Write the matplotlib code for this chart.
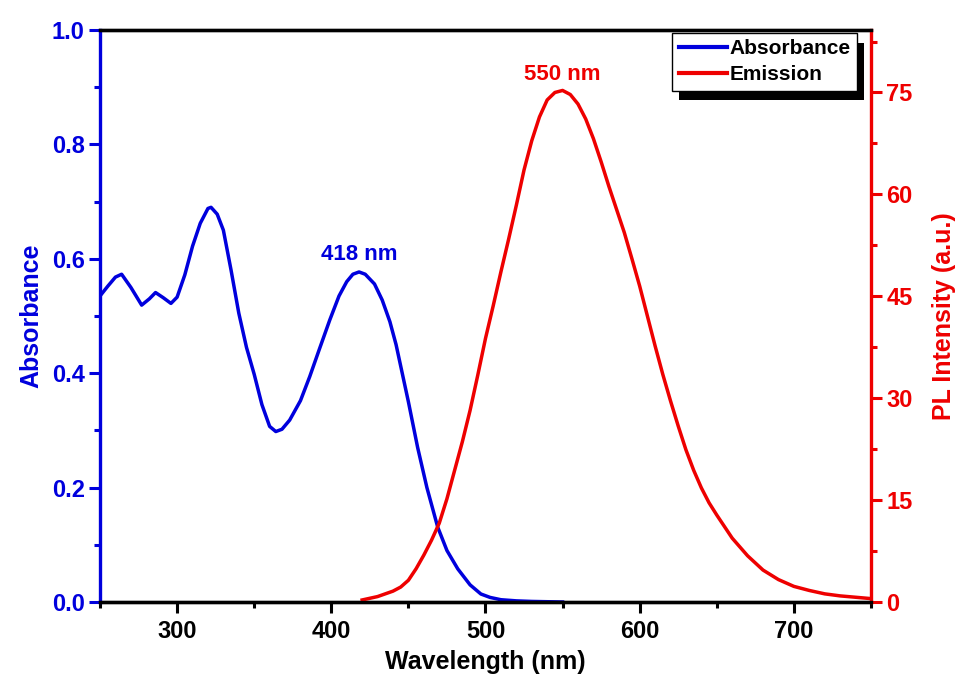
import matplotlib
matplotlib.use("Agg")
from matplotlib import pyplot as plt
from matplotlib import patheffects as pe
from matplotlib.ticker import MultipleLocator
import numpy as np

plt.rcParams['font.family'] = ['Liberation Sans', 'DejaVu Sans']
plt.rcParams['font.weight'] = 'bold'

# absorbance spectrum
abs_wl = [250, 255, 260, 264, 270, 277, 282, 286, 291, 296, 300, 305, 310, 315,
          320, 322, 326, 330, 335, 340, 345, 350, 355, 360, 364, 368, 373, 380,
          386, 392, 399, 405, 410, 414, 418, 422, 428, 433, 438, 442, 446, 450,
          456, 462, 469, 475, 482, 490, 497, 503, 510, 520, 530, 540, 550]
abs_val = [0.535, 0.552, 0.568, 0.573, 0.550, 0.519, 0.530, 0.541, 0.532, 0.522,
           0.533, 0.572, 0.622, 0.662, 0.688, 0.690, 0.678, 0.650, 0.580, 0.505,
           0.445, 0.398, 0.345, 0.307, 0.298, 0.302, 0.318, 0.352, 0.394, 0.440,
           0.493, 0.535, 0.560, 0.573, 0.577, 0.573, 0.556, 0.528, 0.490, 0.450,
           0.400, 0.350, 0.270, 0.200, 0.131, 0.090, 0.058, 0.030, 0.014, 0.008,
           0.004, 0.002, 0.001, 0.0005, 0.0]

# PL emission spectrum
em_wl = [420, 430, 440, 445, 450, 455, 460, 465, 470, 475, 480, 485, 490, 495,
         500, 505, 510, 515, 520, 525, 530, 535, 540, 545, 550, 555, 560, 565,
         570, 575, 580, 585, 590, 595, 600, 605, 610, 615, 620, 625, 630, 635,
         640, 645, 650, 660, 670, 680, 690, 700, 710, 720, 730, 740, 750]
em_val = [0.3, 0.8, 1.6, 2.2, 3.2, 4.9, 6.9, 9.1, 11.6, 15.2, 19.4, 23.6, 28.2,
          33.4, 38.8, 43.6, 48.6, 53.4, 58.4, 63.6, 67.9, 71.4, 73.9, 75.0, 75.3,
          74.7, 73.3, 71.1, 68.2, 64.8, 61.2, 57.8, 54.4, 50.5, 46.5, 42.1, 37.7,
          33.5, 29.6, 25.9, 22.4, 19.4, 16.8, 14.6, 12.8, 9.4, 6.8, 4.7, 3.3, 2.3,
          1.7, 1.2, 0.9, 0.7, 0.5]

blue = '#0000dd'
red = '#ee0000'

fig = plt.figure(figsize=(9.59, 6.80), dpi=100)
ax = fig.add_axes([0.1043, 0.1147, 0.8039, 0.8412])
ax2 = ax.twinx()

l1, = ax.plot(abs_wl, abs_val, color=blue, lw=2.5, label='Absorbance')
l2, = ax2.plot(em_wl, em_val, color=red, lw=2.5, label='Emission')

ax.set_xlim(250, 750)
ax.set_ylim(0, 1.0)
ax2.set_ylim(0, 84.2)

ax.xaxis.set_major_locator(MultipleLocator(100))
ax.xaxis.set_minor_locator(MultipleLocator(50))
ax.yaxis.set_major_locator(MultipleLocator(0.2))
ax.yaxis.set_minor_locator(MultipleLocator(0.1))
ax2.yaxis.set_major_locator(MultipleLocator(15))
ax2.yaxis.set_minor_locator(MultipleLocator(7.5))
ax.yaxis.set_major_formatter(plt.FormatStrFormatter('%.1f'))

for a in (ax, ax2):
    for s in a.spines.values():
        s.set_linewidth(2.4)
        s.set_color('black')
ax.spines['left'].set_color(blue)
ax2.spines['left'].set_visible(False)
ax.spines['right'].set_visible(False)
ax2.spines['right'].set_color(red)

ax.tick_params(axis='x', which='major', direction='out', length=8, width=2.2,
               labelsize=17, pad=5, colors='black', top=False)
ax.tick_params(axis='x', which='minor', direction='out', length=4, width=2.2, top=False)
ax.tick_params(axis='y', which='major', direction='out', length=8, width=2.2,
               labelsize=17, pad=3, colors=blue, right=False)
ax.tick_params(axis='y', which='minor', direction='out', length=4, width=2.2,
               colors=blue, right=False)
ax2.tick_params(axis='y', which='major', direction='out', length=8, width=2.2,
                labelsize=17, pad=3, colors=red, left=False)
ax2.tick_params(axis='y', which='minor', direction='out', length=4, width=2.2,
                colors=red, left=False)
for lab in ax.get_xticklabels() + ax.get_yticklabels() + ax2.get_yticklabels():
    lab.set_fontweight('bold')

ax.set_xlabel('Wavelength (nm)', fontsize=18, fontweight='bold', labelpad=5)
ax.set_ylabel('Absorbance', fontsize=18, fontweight='bold', color=blue, labelpad=6)
ax2.set_ylabel('PL Intensity (a.u.)', fontsize=18, fontweight='bold', color=red, labelpad=14)

ax.text(418, 0.608, '418 nm', color=blue, fontsize=16, fontweight='bold',
        ha='center', va='center')
ax2.text(550, 77.6, '550 nm', color=red, fontsize=16, fontweight='bold',
         ha='center', va='center')

leg = ax2.legend(handles=[l1, l2], loc='upper right', bbox_to_anchor=(0.982, 0.995),
                 borderaxespad=0, fancybox=False, framealpha=1, edgecolor='black',
                 prop={'size': 15, 'weight': 'bold'}, handlelength=2.3,
                 handletextpad=0.15, labelspacing=0.35, borderpad=0.3)
leg.get_frame().set_linewidth(1.0)
leg.get_frame().set_path_effects([
    pe.SimplePatchShadow(offset=(5, -7), shadow_rgbFace='black', alpha=1),
    pe.Normal()])
for line in leg.get_lines():
    line.set_linewidth(3)

plt.savefig('out.png', dpi=100)
